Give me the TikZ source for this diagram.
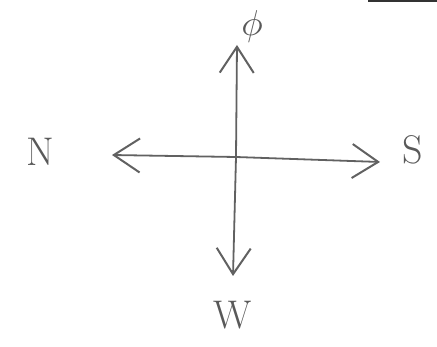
\documentclass[tikz,border=0pt]{standalone}
\usetikzlibrary{arrows.meta}
\begin{document}
\begin{tikzpicture}[x=1pt,y=-1pt,
  pen/.style={draw=black!62,line width=1.8pt,line cap=round},
  tipped/.style={pen,-{Straight Barb[length=26pt,width=34pt,line width=2pt]}},
  lbl/.style={text=black!65,font=\fontsize{40}{40}\selectfont,inner sep=0pt}]
\useasboundingbox (0,0) rectangle (437,347);
\fill[black!80] (368,0) rectangle (437,2);
\coordinate (c) at (236,157);
\coordinate (tu) at (237,45);
\coordinate (td) at (233,276);
\coordinate (tl) at (112,155);
\coordinate (tr) at (380,162);
\draw[tipped] (c) -- (tu);
\draw[tipped] (c) -- (td);
\draw[tipped] (c) -- (tl);
\draw[tipped] (c) -- (tr);
\node[lbl] (n) at (40,152) {N};
\node[lbl] (s) at (413,150) {S};
\node[lbl] (w) at (233,315) {W};
\node[text=black!65,inner sep=0pt,scale=3.6] (p) at (252,27) {$\phi$};
\end{tikzpicture}
\end{document}
